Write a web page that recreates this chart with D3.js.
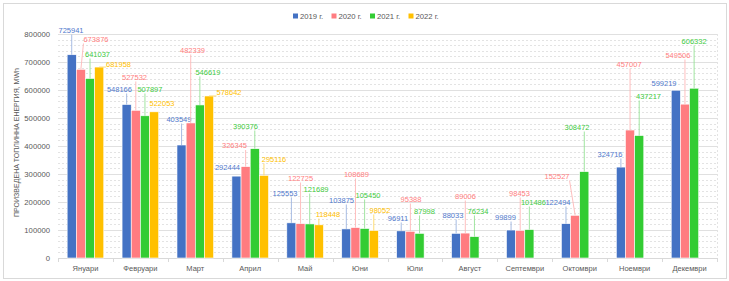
<!DOCTYPE html>
<html><head><meta charset="utf-8">
<script src="https://cdn.jsdelivr.net/npm/d3@7/dist/d3.min.js"></script>
<style>
html,body{margin:0;padding:0;background:#fff;}
svg{display:block;font-family:"Liberation Sans",Arial,sans-serif;}
</style></head>
<body>
<svg id="chart" width="729" height="281"></svg>
<script>
const months = ["Януари","Февруари","Март","Април","Май","Юни","Юли","Август","Септември","Октомври","Ноември","Декември"];
const seriesNames = ["2019 г.","2020 г.","2021 г.","2022 г."];
const v2019 = [725941,548166,403549,292444,125553,103875,96911,88033,99899,122494,324716,599219];
const v2020 = [673876,527532,482339,326345,122725,108689,95388,89006,98453,152527,457007,549506];
const v2021 = [641037,507897,546619,390376,121689,105450,87998,76234,101486,308472,437217,606332];
const v2022 = [681958,522053,578642,295116,118448,98052,null,null,null,null,null,null];
const yTicks = [0,100000,200000,300000,400000,500000,600000,700000,800000];
const yTitle = "ПРОИЗВЕДЕНА ТОПЛИННА ЕНЕРГИЯ, MWh";

const barColors = ["#4472C4","#FF7C80","#33CC33","#FFC000"];
const labelColors = ["#5079CC","#FF8080","#3FCB3F","#FFBF00"];
const leaderColors = ["#9DB4E0","#FFB8B8","#96E296","#FFD966"];

// label placement offsets (px) relative to the top centre of each bar: [dx, dy]
const labelOffsets = [
 [[-0.7,-24.7],[-7.2,-15.5],[-2.6,-26],[-9,-8.6],[-6.4,-29.9],[-4.8,-28.9],[-3.2,-12.9],[-3.2,-18.4],[-5.6,-13],[-8,-21.7],[-10.9,-13.1],[-11.8,-7.2]],
 [[15.1,-30.3],[-1.3,-33.3],[1.8,-73],[-11.1,-21.1],[0,-45.6],[1,-53.6],[0.6,-32.3],[0.2,-37.1],[-0.7,-37.4],[-18.1,-39.3],[-1,-66],[-7,-49.1]],
 [[7.5,-24.5],[5,-26.8],[8.1,-33],[-9.3,-22.7],[6.3,-34.9],[3.4,-33.5],[5,-22.4],[3.6,-25.7],[4.1,-27.6],[-7.3,-44.6],[9.3,-39.6],[0,-47.2]],
 [[19.3,-3.1],[7.9,-8.8],[20,-4],[10.1,-16.4],[9.1,-10.8],[6.2,-20.6],[0,0],[0,0],[0,0],[0,0],[0,0],[0,0]]
];

const allSeries = [v2019,v2020,v2021,v2022];
const svg = d3.select("#chart");
const x0 = 58, x1 = 717, yTop = 34, yBot = 258;

// outer border
svg.append("rect").attr("x",3.5).attr("y",3.5).attr("width",723).attr("height",275)
  .attr("fill","#fff").attr("stroke","#d9d9d9").attr("stroke-width",1);

const x = d3.scaleBand().domain(months).range([x0,x1]).paddingInner(0).paddingOuter(0);
const xs = d3.scaleBand().domain(d3.range(4)).range([x.bandwidth()/6, x.bandwidth()*5/6]).padding(0);
const y = d3.scaleLinear().domain([0,800000]).range([yBot,yTop]);

// minor gridlines
const minor = d3.range(20000,800000,20000).filter(v => v % 100000 !== 0);
svg.append("g").selectAll("line").data(minor).join("line")
  .attr("x1",x0).attr("x2",x1).attr("y1",d=>Math.round(y(d))+0.5).attr("y2",d=>Math.round(y(d))+0.5)
  .attr("stroke","#e3e3e3").attr("stroke-dasharray","2,2").attr("stroke-width",1);
// major gridlines
svg.append("g").selectAll("line").data(yTicks.slice(1)).join("line")
  .attr("x1",x0).attr("x2",x1).attr("y1",d=>Math.round(y(d))+0.5).attr("y2",d=>Math.round(y(d))+0.5)
  .attr("stroke","#e0e0e0").attr("stroke-width",1);
// plot area right border
svg.append("line").attr("x1",x1+0.5).attr("x2",x1+0.5).attr("y1",yTop).attr("y2",yBot)
  .attr("stroke","#e3e3e3").attr("stroke-dasharray","2,2");

// y axis labels
const yAxis = d3.axisLeft(y).tickValues(yTicks).tickSize(0).tickPadding(8).tickFormat(d3.format("d"));
const gy = svg.append("g").attr("transform",`translate(${x0},0)`).call(yAxis);
gy.select(".domain").remove();
gy.selectAll("text").attr("fill","#595959").style("font-size","7.7px").style("font-family","Liberation Sans, Arial, sans-serif");

// x axis
const xAxis = d3.axisBottom(x).tickSize(0).tickPadding(8);
const gx = svg.append("g").attr("transform",`translate(0,${yBot})`).call(xAxis);
gx.select(".domain").attr("stroke","#d9d9d9");
gx.selectAll("text").attr("fill","#595959").style("font-size","7.5px").style("font-family","Liberation Sans, Arial, sans-serif");
// category separator ticks
svg.append("g").selectAll("line").data(d3.range(months.length+1)).join("line")
  .attr("x1",i=>Math.round(x0 + i*x.bandwidth())+0.5).attr("x2",i=>Math.round(x0 + i*x.bandwidth())+0.5)
  .attr("y1",yBot).attr("y2",yBot+4).attr("stroke","#d9d9d9");

// y title, fitted to the reference span
const t = svg.append("text").attr("transform",`translate(19,142.5) rotate(-90)`)
  .attr("text-anchor","middle").attr("fill","#595959").style("font-size","7px").text(yTitle);
const len = t.node().getComputedTextLength();
if(len>0) t.style("font-size",(7*149/len).toFixed(2)+"px");

// bars
const bars = [];
allSeries.forEach((arr,si)=>{
  arr.forEach((v,mi)=>{
    if(v==null) return;
    bars.push({si,mi,v});
  });
});
svg.append("g").selectAll("rect").data(bars).join("rect")
  .attr("x",d=>x(months[d.mi])+xs(d.si))
  .attr("y",d=>y(d.v))
  .attr("width",xs.bandwidth())
  .attr("height",d=>yBot-y(d.v))
  .attr("fill",d=>barColors[d.si])
  .attr("stroke","#ffffff").attr("stroke-width",0.6);

// labels with leader lines
const fs = 7.5;
const gl = svg.append("g");
bars.forEach(d=>{
  const bx = x(months[d.mi])+xs(d.si)+xs.bandwidth()/2;
  const by = y(d.v);
  const off = labelOffsets[d.si][d.mi];
  const cx = bx + off[0], cy = by + off[1];
  const txt = String(d.v);
  const tw = txt.length*4.17, th = 7;
  const bx0 = cx - tw/2, bx1 = cx + tw/2, by0 = cy - th/2, by1 = cy + th/2 + 1;
  const px = Math.max(bx0, Math.min(bx, bx1));
  const py = Math.max(by0, Math.min(by, by1));
  const dist = Math.hypot(px-bx, py-by);
  if(dist > 5){
    gl.append("line").attr("x1",bx).attr("y1",by).attr("x2",px).attr("y2",py)
      .attr("stroke",leaderColors[d.si]).attr("stroke-width",0.9);
  }
  gl.append("text").attr("x",cx).attr("y",cy).attr("dy","0.35em")
    .attr("text-anchor","middle").attr("fill",labelColors[d.si])
    .style("font-size",fs+"px").text(txt);
});

// legend
const legX = [293,331.5,370,408.5];
const lg = svg.append("g");
seriesNames.forEach((n,i)=>{
  lg.append("rect").attr("x",legX[i]).attr("y",13.5).attr("width",5).attr("height",5).attr("fill",barColors[i]);
  lg.append("text").attr("x",legX[i]+7).attr("y",16).attr("dy","0.35em")
    .attr("fill","#595959").style("font-size","7.7px").text(n);
});
</script>
</body></html>
